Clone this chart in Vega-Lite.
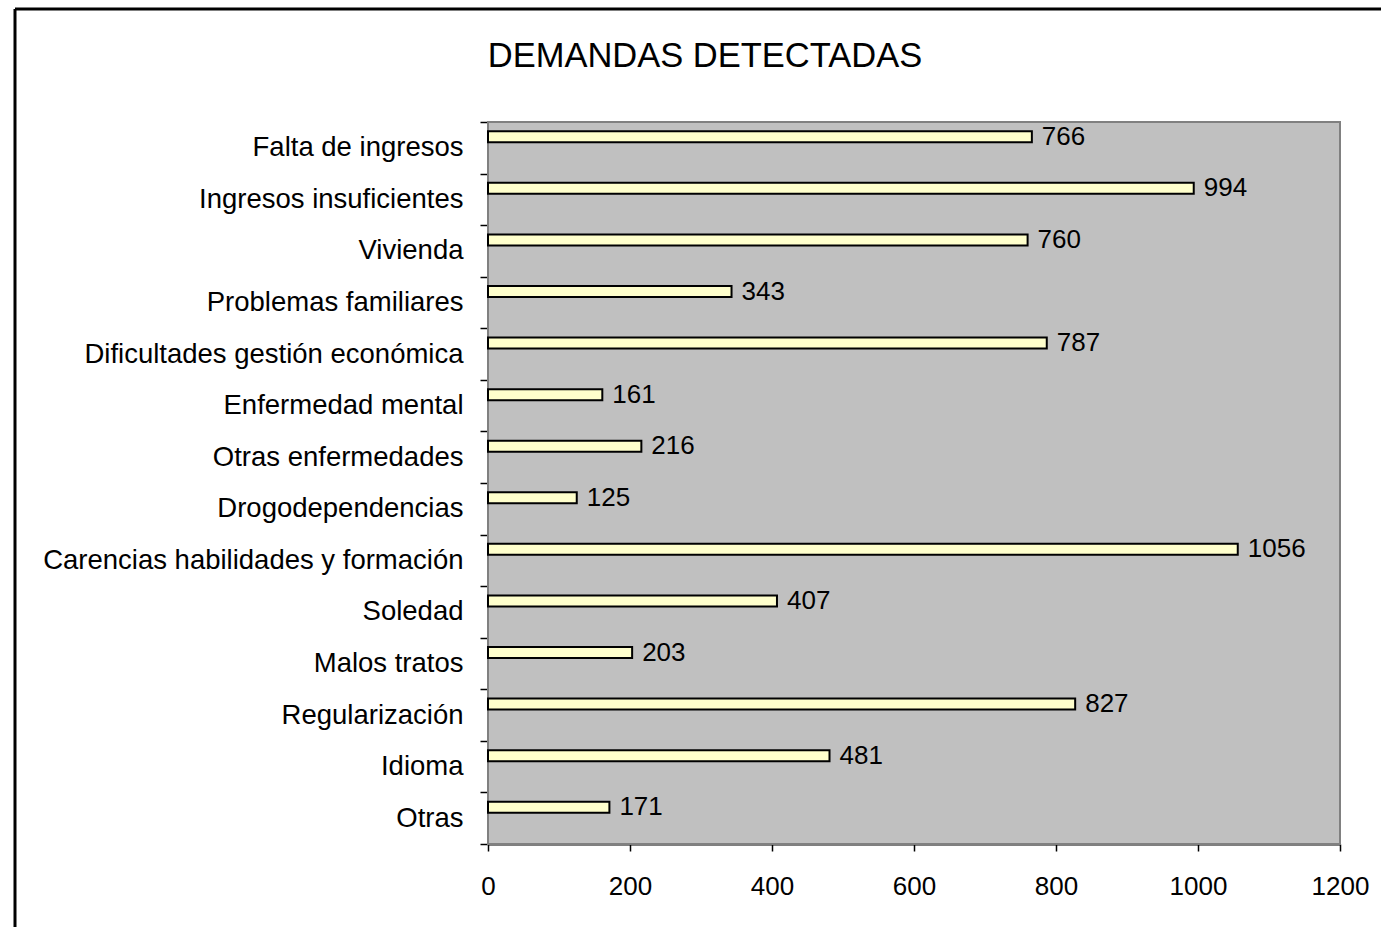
{
  "$schema": "https://vega.github.io/schema/vega-lite/v6.json",
  "width": 1366,
  "height": 918,
  "autosize": {"type": "none"},
  "padding": {"left": 15, "top": 9, "right": 0, "bottom": 0},
  "background": "white",
  "title": {
    "text": "DEMANDAS DETECTADAS",
    "font": "Liberation Sans",
    "fontSize": 34.5,
    "fontWeight": "normal",
    "color": "black",
    "anchor": "middle",
    "frame": "group",
    "baseline": "alphabetic",
    "offset": 0,
    "dx": 7,
    "dy": 106
  },
  "config": {
    "view": {"stroke": "black", "strokeWidth": 3, "strokeDash": [1366, 2284, 918, 0]},
    "axis": {"labelFont": "Liberation Sans", "labelColor": "black", "domainColor": "black", "tickColor": "black", "grid": false, "zindex": 2}
  },
  "datasets": {
    "demandas": [
      {"categoria": "Falta de ingresos", "valor": 766},
      {"categoria": "Ingresos insuficientes", "valor": 994},
      {"categoria": "Vivienda", "valor": 760},
      {"categoria": "Problemas familiares", "valor": 343},
      {"categoria": "Dificultades gestión económica", "valor": 787},
      {"categoria": "Enfermedad mental", "valor": 161},
      {"categoria": "Otras enfermedades", "valor": 216},
      {"categoria": "Drogodependencias", "valor": 125},
      {"categoria": "Carencias habilidades y formación", "valor": 1056},
      {"categoria": "Soledad", "valor": 407},
      {"categoria": "Malos tratos", "valor": 203},
      {"categoria": "Regularización", "valor": 827},
      {"categoria": "Idioma", "valor": 481},
      {"categoria": "Otras", "valor": 171}
    ],
    "fondo": [{"x0": 0, "x1": 1200, "y0": 0, "y1": 1}]
  },
  "layer": [
    {
      "data": {"name": "fondo"},
      "mark": {"type": "rect", "fill": "#C0C0C0", "stroke": "#808080", "strokeWidth": 2},
      "encoding": {
        "x": {
          "field": "x0", "type": "quantitative", "title": null,
          "scale": {"domain": [0, 1200], "range": [473, 1325], "nice": false, "zero": true},
          "axis": {"orient": "bottom", "offset": -83, "values": [0, 200, 400, 600, 800, 1000, 1200], "format": "d", "tickSize": 7, "tickWidth": 1.5, "domainWidth": 2, "labelFontSize": 26, "labelPadding": 22, "labelFlush": false, "labelOverlap": false, "title": null}
        },
        "x2": {"field": "x1"},
        "y": {"field": "y0", "type": "quantitative", "scale": {"domain": [0, 1], "range": [835, 113]}, "axis": null},
        "y2": {"field": "y1"}
      }
    },
    {
      "data": {"name": "demandas"},
      "mark": {"type": "bar", "fill": "#FFFFCC", "stroke": "black", "strokeWidth": 2, "height": 11, "yOffset": -11},
      "encoding": {
        "x": {"field": "valor", "type": "quantitative", "title": null},
        "y": {
          "field": "categoria", "type": "nominal", "sort": null, "title": null,
          "scale": {"range": [113, 835], "paddingInner": 0, "paddingOuter": 0},
          "axis": {
            "orient": "left", "offset": -473, "tickBand": "extent", "tickSize": 8, "tickWidth": 1.5, "domainWidth": 2, "labelFontSize": 27.5, "labelPadding": 17, "labelLimit": 0, "title": null,
            "labelExpr": "datum.label === 'Otras' ? 'Otras\u00a0\u00a0' : datum.label"
          }
        }
      }
    },
    {
      "data": {"name": "demandas"},
      "mark": {"type": "text", "align": "left", "baseline": "middle", "dx": 10, "yOffset": -11, "font": "Liberation Sans", "fontSize": 26, "color": "black"},
      "encoding": {
        "x": {"field": "valor", "type": "quantitative", "title": null},
        "y": {"field": "categoria", "type": "nominal", "sort": null, "scale": {"range": [113, 835], "paddingInner": 0, "paddingOuter": 0}, "axis": null},
        "text": {"field": "valor", "type": "quantitative"}
      }
    }
  ],
  "resolve": {"scale": {"y": "independent"}, "axis": {"y": "independent"}}
}
